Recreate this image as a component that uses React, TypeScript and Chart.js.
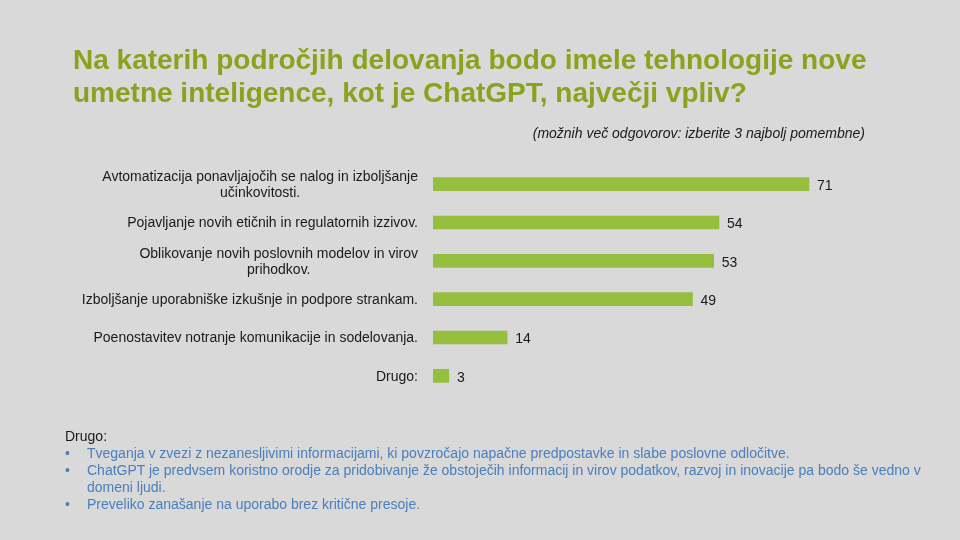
import React, { useEffect, useRef } from "react";
import { Chart, registerables } from "chart.js";

Chart.register(...registerables);

const categories: string[][] = [
  ["Avtomatizacija ponavljajočih se nalog in izboljšanje", "učinkovitosti."],
  ["Pojavljanje novih etičnih in regulatornih izzivov."],
  ["Oblikovanje novih poslovnih modelov in virov", "prihodkov."],
  ["Izboljšanje uporabniške izkušnje in podpore strankam."],
  ["Poenostavitev notranje komunikacije in sodelovanja."],
  ["Drugo:"],
];
const values: number[] = [71, 54, 53, 49, 14, 3];

const titleLines: string[] = [
  "Na katerih področjih delovanja bodo imele tehnologije nove",
  "umetne inteligence, kot je ChatGPT, največji vpliv?",
];
const subtitle = "(možnih več odgovorov: izberite 3 najbolj pomembne)";
const notesHeader = "Drugo:";
const notes: string[][] = [
  ["Tveganja v zvezi z nezanesljivimi informacijami, ki povzročajo napačne predpostavke in slabe poslovne odločitve."],
  ["ChatGPT je predvsem koristno orodje za pridobivanje že obstoječih informacij in virov podatkov, razvoj in inovacije pa bodo še vedno v", "domeni ljudi."],
  ["Preveliko zanašanje na uporabo brez kritične presoje."],
];

const FONT = "'Liberation Sans', Arial, sans-serif";
const GREEN_TITLE = "#8aa31e";
const GREEN_BAR = "#96bf3f";
const BLUE = "#4a7ebd";

export default function App() {
  const ref = useRef<HTMLCanvasElement | null>(null);

  useEffect(() => {
    document.body.style.margin = "0";
    if (!ref.current) return;
    const labelPlugin = {
      id: "labelsPlugin",
      afterDatasetsDraw(chart: any) {
        const ctx = chart.ctx;
        const y = chart.scales.y;
        const x = chart.scales.x;
        ctx.save();
        ctx.font = `14px ${FONT}`;
        ctx.fillStyle = "#1a1a1a";
        ctx.textBaseline = "middle";
        const right = 418;
        categories.forEach((lines, i) => {
          const cy = y.getPixelForValue(i) + 1;
          const maxW = Math.max(...lines.map((l) => ctx.measureText(l).width));
          const cx = right - maxW / 2;
          ctx.textAlign = "center";
          const lh = 16;
          lines.forEach((l, j) => {
            const ly = cy + (j - (lines.length - 1) / 2) * lh;
            ctx.fillText(l, cx, ly);
          });
          ctx.textAlign = "left";
          ctx.fillText(String(values[i]), x.getPixelForValue(values[i]) + 8, cy + 1);
        });
        ctx.restore();
      },
    };
    const chart = new Chart(ref.current, {
      type: "bar",
      data: {
        labels: categories.map((c) => c.join(" ")),
        datasets: [
          {
            data: values,
            backgroundColor: GREEN_BAR,
            borderWidth: 0,
            barThickness: 13,
          },
        ],
      },
      options: {
        indexAxis: "y",
        animation: false,
        responsive: false,
        maintainAspectRatio: false,
        layout: { padding: { left: 433, top: 165, bottom: 145, right: 960 - 433 - (376 / 71) * 80 } },
        plugins: { legend: { display: false }, tooltip: { enabled: false }, title: { display: false } },
        scales: {
          x: { display: false, min: 0, max: 80 },
          y: { display: false, grid: { display: false } },
        },
      },
      plugins: [labelPlugin],
    });
    return () => chart.destroy();
  }, []);

  return (
    <div style={{ position: "fixed", left: 0, top: 0, width: 960, height: 540, background: "#d9d9d9", overflow: "hidden", fontFamily: FONT }}>
      <canvas ref={ref} width={960} height={540} style={{ position: "absolute", left: 0, top: 0, width: 960, height: 540 }} />
      <div style={{ position: "absolute", left: 73, top: 43, color: GREEN_TITLE, fontWeight: "bold", fontSize: 28, lineHeight: "33px", whiteSpace: "nowrap" }}>
        {titleLines.map((t, i) => (
          <div key={i}>{t}</div>
        ))}
      </div>
      <div style={{ position: "absolute", right: 960 - 865, top: 125, fontStyle: "italic", fontSize: 14, color: "#1a1a1a", whiteSpace: "nowrap" }}>
        {subtitle}
      </div>
      <div style={{ position: "absolute", left: 65, top: 428, fontSize: 14, lineHeight: "17px", color: "#1a1a1a", whiteSpace: "nowrap" }}>
        <div>{notesHeader}</div>
        {notes.map((n, i) => (
          <div key={i} style={{ color: BLUE, position: "relative", paddingLeft: 22 }}>
            <span style={{ position: "absolute", left: 0 }}>•</span>
            {n.map((l, j) => (
              <div key={j}>{l}</div>
            ))}
          </div>
        ))}
      </div>
    </div>
  );
}
